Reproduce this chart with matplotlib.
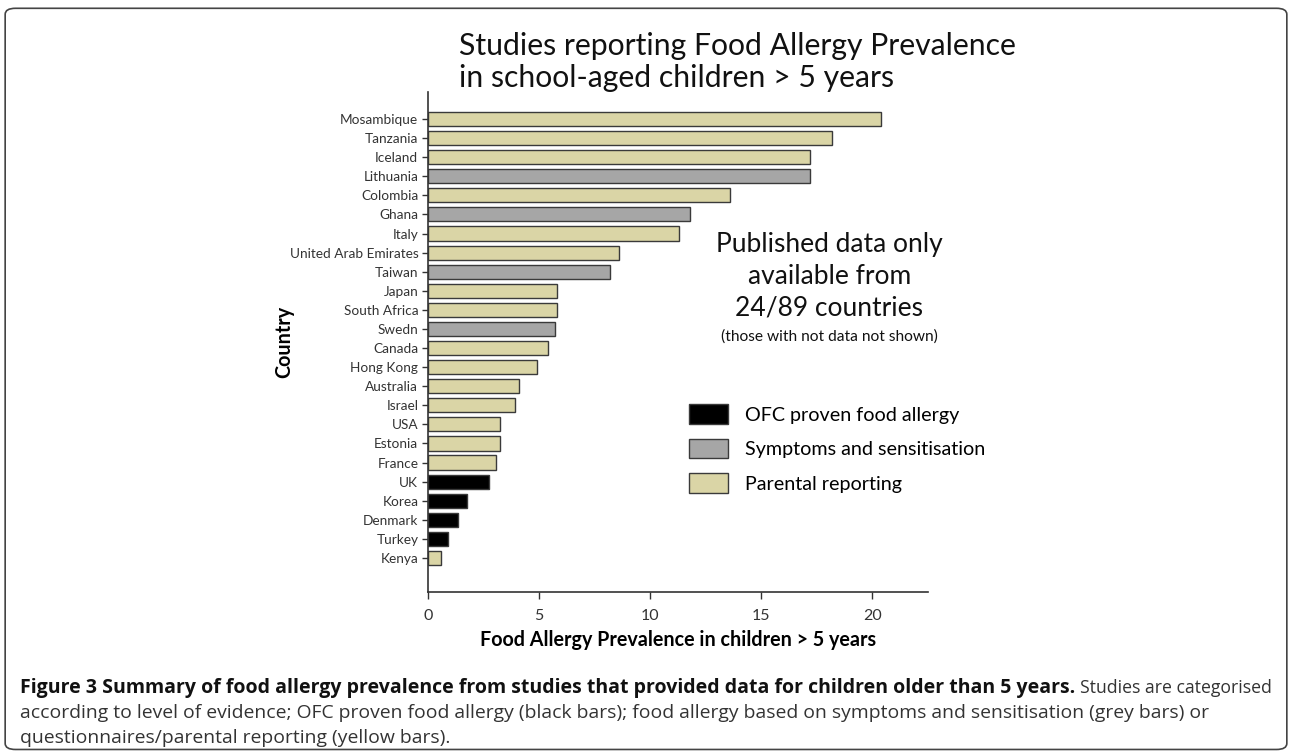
import numpy as np
import matplotlib.pyplot as plt
from matplotlib.patches import Patch, FancyBboxPatch

plt.rcParams['font.family'] = ['Lato', 'DejaVu Sans']

# data, top to bottom as in the chart
countries = ['Mosambique', 'Tanzania', 'Iceland', 'Lithuania', 'Colombia', 'Ghana',
             'Italy', 'United Arab Emirates', 'Taiwan', 'Japan', 'South Africa', 'Swedn',
             'Canada', 'Hong Kong', 'Australia', 'Israel', 'USA', 'Estonia', 'France',
             'UK', 'Korea', 'Denmark', 'Turkey', 'Kenya']
prevalence = [20.4, 18.2, 17.2, 17.2, 13.6, 11.8, 11.3, 8.6, 8.2, 5.8, 5.8, 5.7,
              5.4, 4.9, 4.1, 3.9, 3.25, 3.25, 3.05, 2.75, 1.75, 1.35, 0.9, 0.6]
# P = parental reporting, S = symptoms and sensitisation, O = OFC proven
evidence = ['P', 'P', 'P', 'S', 'P', 'S', 'P', 'P', 'S', 'P', 'P', 'S',
            'P', 'P', 'P', 'P', 'P', 'P', 'P', 'O', 'O', 'O', 'O', 'P']

colors = {'O': '#000000', 'S': '#a6a6a6', 'P': '#dad5a6'}
names = {'O': 'OFC proven food allergy', 'S': 'Symptoms and sensitisation',
         'P': 'Parental reporting'}

fig = plt.figure(figsize=(12.92, 7.54), dpi=100)
ax = fig.add_axes([0.3313, 0.2149, 0.387, 0.663])

y = np.arange(len(countries))[::-1]
ax.barh(y, prevalence, height=0.74, color=[colors[e] for e in evidence],
        edgecolor='#3a3a3a', linewidth=1.0)

ax.set_yticks(y)
ax.set_yticklabels(countries, fontsize=9.8, color='#333333')
ax.set_xticks([0, 5, 10, 15, 20])
ax.set_xticklabels(['0', '5', '10', '15', '20'], fontsize=11.5, color='#333333')
ax.set_xlim(0, 22.5)
ax.set_ylim(-1.78, 24.41)
ax.tick_params(axis='y', length=4, width=1, color='#333333', pad=3)
ax.tick_params(axis='x', length=5, width=1, color='#333333', pad=7)
for s in ['top', 'right']:
    ax.spines[s].set_visible(False)
for s in ['left', 'bottom']:
    ax.spines[s].set_color('#333333')
    ax.spines[s].set_linewidth(1.2)

ax.set_xlabel('Food Allergy Prevalence in children > 5 years', fontsize=14.2,
              fontweight='bold', labelpad=5)
ax.set_ylabel('Country', fontsize=14.2, fontweight='bold')
ax.yaxis.set_label_coords(-0.268, 0.5)

fig.text(0.355, 0.957, 'Studies reporting Food Allergy Prevalence\nin school-aged children > 5 years',
         fontsize=21.7, ha='left', va='top', linespacing=1.14, color='#111111')

fig.text(0.642, 0.692, 'Published data only\navailable from\n24/89 countries',
         fontsize=19, ha='center', va='top', linespacing=1.32, color='#111111')
fig.text(0.642, 0.553, '(those with not data not shown)', fontsize=11.2,
         ha='center', va='center', color='#111111')

handles = [Patch(facecolor=colors[k], edgecolor='#3a3a3a', label=names[k]) for k in ['O', 'S', 'P']]
fig.legend(handles=handles, loc='upper left', bbox_to_anchor=(0.527, 0.474),
           frameon=False, fontsize=14.2, handlelength=2.0, handleheight=1.15,
           labelspacing=0.75, handletextpad=0.85, borderaxespad=0)

# caption
cap_bold = 'Figure 3 Summary of food allergy prevalence from studies that provided data for children older than 5 years.'
cap_lines = ['according to level of evidence; OFC proven food allergy (black bars); food allergy based on symptoms and sensitisation (grey bars) or',
             'questionnaires/parental reporting (yellow bars).']
renderer = fig.canvas.get_renderer()
tb = fig.text(0.0155, 0.0875, cap_bold, fontsize=12, fontweight='bold', family='Open Sans',
              ha='left', va='center', color='#111111')
tb.set_fontsize(12 * 1050 / tb.get_window_extent(renderer).width)
t1 = fig.text(0.0155, 0.0544, cap_lines[0], fontsize=12, family='Open Sans',
              ha='left', va='center', color='#333333')
fs = 12 * 1180 / t1.get_window_extent(renderer).width
t1.set_fontsize(fs)
fig.text(0.0155, 0.0212, cap_lines[1], fontsize=fs, family='Open Sans',
         ha='left', va='center', color='#333333')
x_end = tb.get_window_extent(renderer).x1 / fig.bbox.width
t2 = fig.text(x_end + 0.004, 0.0875, 'Studies are categorised', fontsize=fs, family='Open Sans',
              ha='left', va='center', color='#333333')
room = 0.985 * fig.bbox.width - t2.get_window_extent(renderer).x0
if t2.get_window_extent(renderer).width > room:
    t2.set_fontsize(fs * room / t2.get_window_extent(renderer).width)

box = FancyBboxPatch((0.004, 0.006), 0.992, 0.983, boxstyle='round,pad=0,rounding_size=0.008',
                     transform=fig.transFigure, fill=False, edgecolor='#444444', linewidth=1.2)
fig.patches.append(box)

fig.savefig('out.png', dpi=100)
